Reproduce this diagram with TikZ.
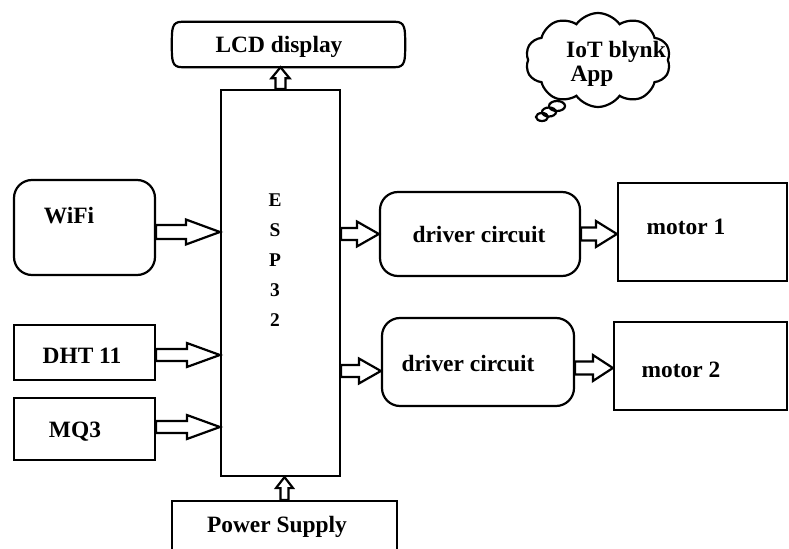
\documentclass[tikz,border=0pt]{standalone}
\usepackage{fontspec}
\setmainfont{Liberation Serif}
\usetikzlibrary{shapes.symbols,calc}
\begin{document}
\begin{tikzpicture}[x=1bp,y=-1bp,
  lw/.style={line width=2.2bp},
  box/.style={draw,lw,rectangle,inner sep=0pt},
  rbox/.style={box,rounded corners=18bp},
  lbl/.style={font=\fontsize{23.5}{27}\selectfont\bfseries,inner sep=0pt,anchor=base},
  hr/.style n args={3}{lw,to path={let \p1=(\tikztostart),\p2=(\tikztotarget) in
    (\x1,\y1+#1) -- (\x2-#3,\y1+#1) -- (\x2-#3,\y1+#2) -- (\x2,\y1) --
    (\x2-#3,\y1-#2) -- (\x2-#3,\y1-#1) -- (\x1,\y1-#1) -- cycle}},
  hu/.style n args={3}{lw,to path={let \p1=(\tikztostart),\p2=(\tikztotarget) in
    (\x1+#1,\y1) -- (\x1+#1,\y2-#3) -- (\x1+#2,\y2-#3) -- (\x1,\y2) --
    (\x1-#2,\y2-#3) -- (\x1-#1,\y2-#3) -- (\x1-#1,\y1) -- cycle}},
]
\useasboundingbox (0,0) rectangle (789,549);
\clip (0,0) rectangle (789,549);

% boxes
\node[minimum width=233bp,minimum height=45bp,inner sep=0pt] (lcd) at (288.5,44.5) {};
\draw[lw] ($(lcd.north west)+(10,0)$) -- ($(lcd.north east)+(-10,0)$)
  .. controls ($(lcd.north east)+(0,0)$) and ($(lcd.east)+(0,-16)$) .. (lcd.east)
  .. controls ($(lcd.east)+(0,16)$) and ($(lcd.south east)+(0,0)$) .. ($(lcd.south east)+(-10,0)$)
  -- ($(lcd.south west)+(10,0)$)
  .. controls ($(lcd.south west)+(0,0)$) and ($(lcd.west)+(0,16)$) .. (lcd.west)
  .. controls ($(lcd.west)+(0,-16)$) and ($(lcd.north west)+(0,0)$) .. cycle;
\node[box,minimum width=119bp,minimum height=386bp] (esp) at (280.5,283) {};
\node[rbox,minimum width=141bp,minimum height=95bp] (wifi) at (84.5,227.5) {};
\node[box,minimum width=141bp,minimum height=55bp] (dht) at (84.5,352.5) {};
\node[box,minimum width=141bp,minimum height=62bp] (mq) at (84.5,429) {};
\node[box,minimum width=225bp,minimum height=70bp,anchor=north] (pw) at (284.5,500) {};
\node[rbox,minimum width=200bp,minimum height=84bp] (drv1) at (480,234) {};
\node[rbox,minimum width=192bp,minimum height=88bp] (drv2) at (478,362) {};
\node[box,minimum width=169bp,minimum height=98bp] (mot1) at (702.5,232) {};
\node[box,minimum width=173bp,minimum height=88bp] (mot2) at (700.5,366) {};

% cloud
\node[cloud,draw,lw,cloud puffs=10,cloud puff arc=110,aspect=1.6,minimum width=145bp,minimum height=94bp,inner sep=0pt] (cloud) at (598,60) {};
\draw[lw] (557,106) ellipse [x radius=8bp, y radius=5bp];
\draw[lw] (549,112) ellipse [x radius=7bp, y radius=4.5bp];
\draw[lw] (542,117) ellipse [x radius=6bp, y radius=4bp];

% texts
\node[lbl] (lcdt) at (279,53) {LCD display};
\node[lbl] (iott) at (616,58) {IoT blynk};
\node[lbl] (appt) at (592,82) {App};
\node[lbl] (wifit) at (69,224) {WiFi};
\node[lbl] (dhtt) at (82,363) {DHT 11};
\node[lbl] (mqt) at (75,437) {MQ3};
\node[lbl] (d1t) at (479,243) {driver circuit};
\node[lbl] (d2t) at (468,371) {driver circuit};
\node[lbl] (m1t) at (686,235) {motor 1};
\node[lbl] (m2t) at (681,377) {motor 2};
\node[lbl] (pwt) at (277,532) {Power Supply};
\node[font=\fontsize{19.5}{30}\selectfont\bfseries,align=center,inner sep=0pt] (espt) at (275,260) {E\\S\\P\\3\\2};

% arrows
\draw[hr={7bp}{12.5bp}{34bp}] ($(wifi.east)+(0,4.5)$) to (esp.west);
\draw[hr={6bp}{12bp}{33bp}] ($(dht.east)+(0,2.5)$) to (esp.west);
\draw[hr={6bp}{12bp}{33bp}] ($(mq.east)+(0,-2)$) to (esp.west);
\draw[hr={6bp}{12.5bp}{22bp}] (drv1.west -| esp.east) to (drv1.west);
\draw[hr={6bp}{12.5bp}{22bp}] ($(drv2.west -| esp.east)+(0,9)$) to (drv2.west);
\draw[hr={6.5bp}{13bp}{21bp}] (drv1.east) to (mot1.west);
\draw[hr={6.5bp}{13bp}{20bp}] ($(drv2.east)+(0,6)$) to (mot2.west);
\draw[hu={5bp}{9bp}{11bp}] (esp.north) to (lcd.south);
\draw[hu={4bp}{8.5bp}{11bp}] (pw.north) to (esp.south);
\end{tikzpicture}
\end{document}
